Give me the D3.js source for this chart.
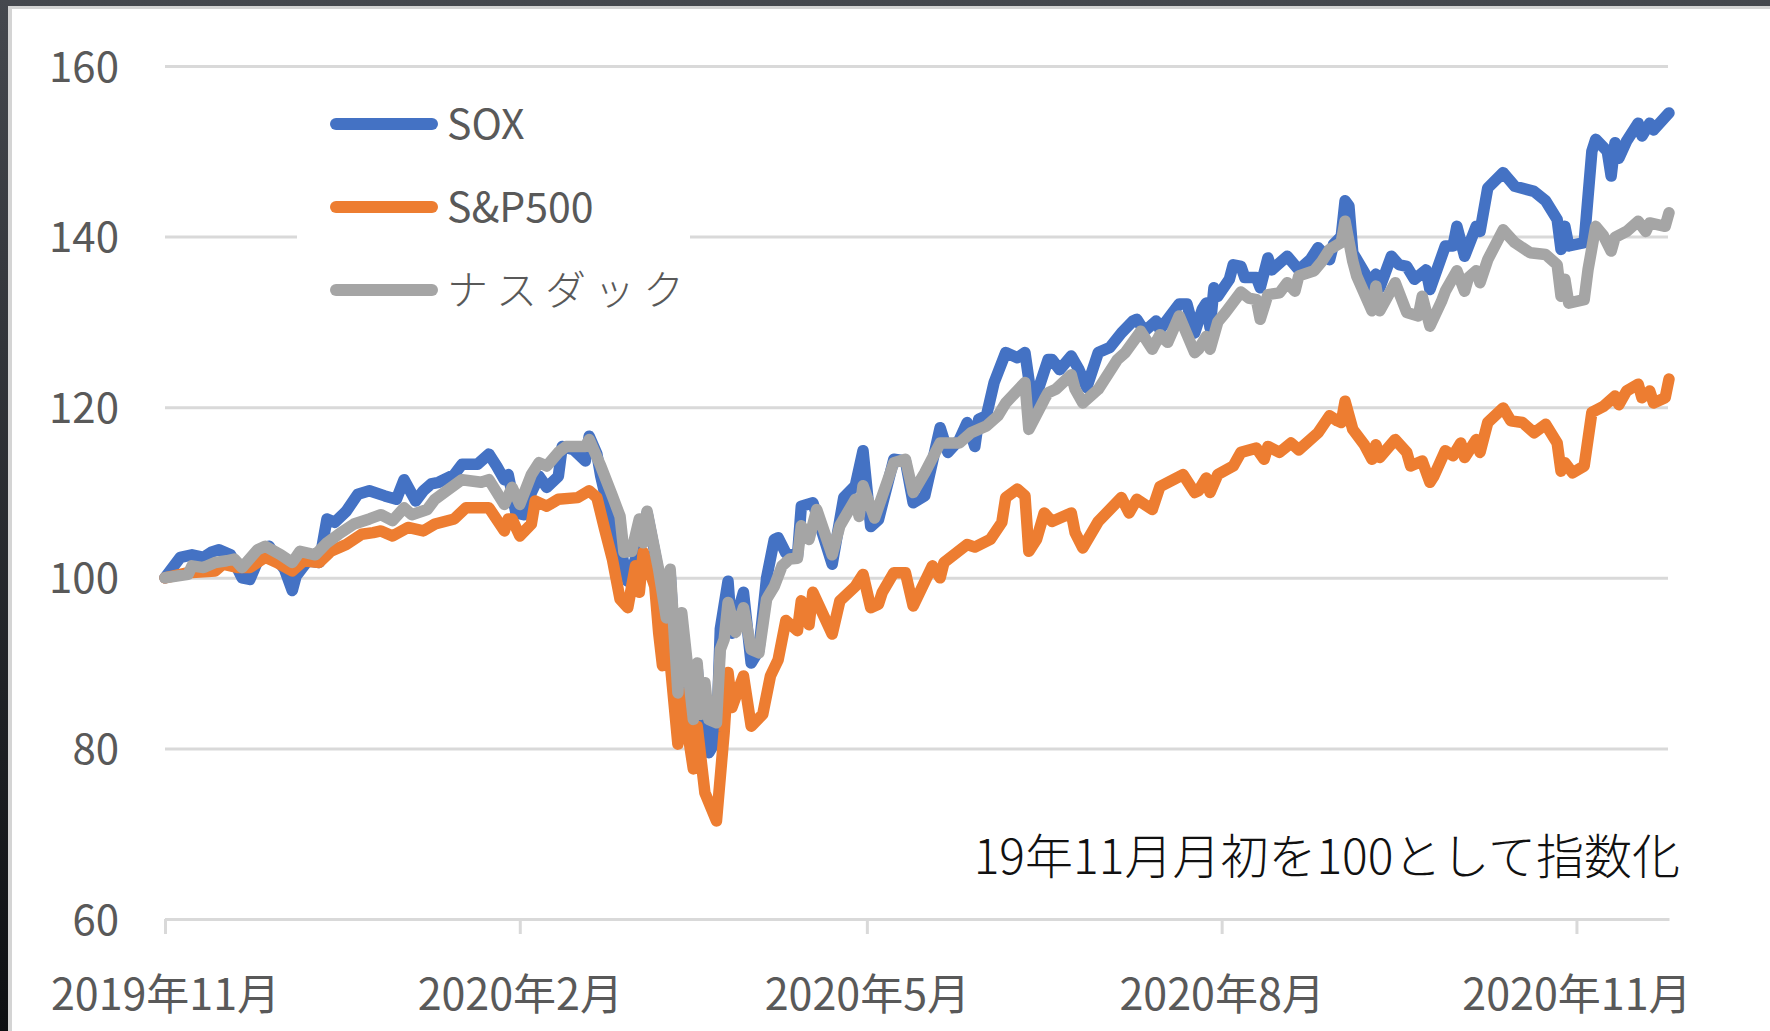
<!DOCTYPE html>
<html>
<head>
<meta charset="utf-8">
<script src="https://cdn.jsdelivr.net/npm/d3@7"></script>
<style>
  html, body { margin: 0; padding: 0; overflow: hidden; }
  body { width: 1770px; height: 1031px; background: linear-gradient(#45484e, #0d0f12); }
  svg { display: block; }
</style>
</head>
<body>
<div id="main"></div>
<script>
// series names / colours as in the Excel chart
const seriesNames = ['SOX', 'S&P500', 'ナスダック'];
const seriesColours = ['#4472C4', '#ED7D31', '#A5A5A5'];
const yTicks = [60, 80, 100, 120, 140, 160];
const xTicks = ['2019-11-01', '2020-02-01', '2020-05-01', '2020-08-01', '2020-11-01'];
const xStart = '2019-11-01';
const xEnd = '2020-11-25';
const noteText = '19年11月月初を100として指数化';

// values (index, 2019-11 start = 100)
const soxData = [
  ['2019-11-01',100],['2019-11-05',102.4],['2019-11-08',102.7],['2019-11-11',102.4],['2019-11-13',103],
  ['2019-11-15',103.3],['2019-11-18',102.7],['2019-11-21',100],['2019-11-23',99.8],['2019-11-26',103],
  ['2019-11-28',103.7],['2019-11-30',102.2],['2019-12-02',101],['2019-12-04',98.5],['2019-12-05',100.2],
  ['2019-12-08',102],['2019-12-11',101.8],['2019-12-13',106.9],['2019-12-15',106.5],['2019-12-18',107.8],
  ['2019-12-21',109.8],['2019-12-24',110.2],['2019-12-28',109.6],['2019-12-31',109.2],['2020-01-02',111.5],
  ['2020-01-05',109],['2020-01-07',110.2],['2020-01-09',111],['2020-01-11',111.2],['2020-01-15',112.1],
  ['2020-01-17',113.3],['2020-01-21',113.3],['2020-01-24',114.5],['2020-01-26',113.1],['2020-01-28',111.5],
  ['2020-01-29',112.1],['2020-01-31',107.6],['2020-02-02',107.4],['2020-02-04',110],['2020-02-06',111.9],
  ['2020-02-08',110.6],['2020-02-11',111.9],['2020-02-12',115.4],['2020-02-15',115],['2020-02-18',113.7],
  ['2020-02-19',116.6],['2020-02-21',114.5],['2020-02-22',111.9],['2020-02-24',108],['2020-02-27',103.7],
  ['2020-02-29',99.6],['2020-03-03',103.5],['2020-03-05',107.6],['2020-03-07',103],['2020-03-08',100.5],
  ['2020-03-10',94.5],['2020-03-11',100.5],['2020-03-13',85.5],['2020-03-14',95],['2020-03-17',82.5],
  ['2020-03-18',89.5],['2020-03-19',83.5],['2020-03-20',86.5],['2020-03-21',79.5],['2020-03-23',81],
  ['2020-03-24',94],['2020-03-26',99.6],['2020-03-27',93.5],['2020-03-30',98.3],['2020-04-01',90],
  ['2020-04-03',91.5],['2020-04-05',100],['2020-04-07',104.5],['2020-04-08',104.7],['2020-04-10',102.9],
  ['2020-04-13',102.5],['2020-04-14',108.4],['2020-04-17',108.8],['2020-04-22',101.6],['2020-04-25',109.4],
  ['2020-04-28',110.8],['2020-04-30',114.9],['2020-05-02',106],['2020-05-04',106.8],['2020-05-08',113.9],
  ['2020-05-11',113.7],['2020-05-13',108.8],['2020-05-16',109.6],['2020-05-20',117.6],['2020-05-22',114.7],
  ['2020-05-25',116.2],['2020-05-27',118.2],['2020-05-29',115.4],['2020-05-30',118.6],['2020-06-01',119],
  ['2020-06-03',122.9],['2020-06-06',126.4],['2020-06-09',125.8],['2020-06-11',126.4],['2020-06-13',120.1],
  ['2020-06-17',125.6],['2020-06-18',125.6],['2020-06-20',124.4],['2020-06-23',126],['2020-06-25',124.4],
  ['2020-06-27',122.3],['2020-06-30',126.4],['2020-07-03',127],['2020-07-06',128.7],['2020-07-09',130.1],
  ['2020-07-10',130.3],['2020-07-12',128.9],['2020-07-15',130.1],['2020-07-16',129.1],['2020-07-21',132.1],
  ['2020-07-23',132.1],['2020-07-25',128.7],['2020-07-27',131.5],['2020-07-28',132.2],['2020-07-29',129.3],
  ['2020-07-30',134],['2020-07-31',133],['2020-08-03',135],['2020-08-04',136.7],['2020-08-06',136.5],
  ['2020-08-07',135.2],['2020-08-10',135.2],['2020-08-11',134],['2020-08-13',137.5],['2020-08-14',136.1],
  ['2020-08-18',137.7],['2020-08-21',136.1],['2020-08-24',137.3],['2020-08-26',138.7],['2020-08-29',137.3],
  ['2020-08-30',139.1],['2020-09-01',140],['2020-09-02',144.2],['2020-09-03',143.6],['2020-09-04',138.1],
  ['2020-09-07',135.8],['2020-09-09',134.2],['2020-09-10',135.6],['2020-09-11',134],['2020-09-14',137.7],
  ['2020-09-16',136.7],['2020-09-18',136.5],['2020-09-20',135],['2020-09-23',136.1],['2020-09-24',133.8],
  ['2020-09-28',138.9],['2020-09-30',138.9],['2020-10-01',141.2],['2020-10-03',137.7],['2020-10-06',141.2],
  ['2020-10-07',140.6],['2020-10-09',145.7],['2020-10-13',147.5],['2020-10-16',145.9],['2020-10-21',145.3],
  ['2020-10-24',144.2],['2020-10-27',142],['2020-10-28',138.5],['2020-10-29',141.2],['2020-10-30',138.9],
  ['2020-11-03',139.3],['2020-11-05',150],['2020-11-06',151.4],['2020-11-09',150],['2020-11-10',147.1],
  ['2020-11-11',151],['2020-11-12',149.2],['2020-11-14',151.2],['2020-11-17',153.3],['2020-11-18',151.8],
  ['2020-11-20',153.3],['2020-11-21',152.5],['2020-11-25',154.5]
];

const spData = [
  ['2019-11-01',100],['2019-11-07',100.6],['2019-11-14',100.8],['2019-11-16',101.6],['2019-11-20',101.2],
  ['2019-11-23',101.2],['2019-11-27',102.4],['2019-11-30',101.8],['2019-12-04',100.8],['2019-12-07',102],
  ['2019-12-11',101.8],['2019-12-14',103.1],['2019-12-18',103.9],['2019-12-22',105.1],['2019-12-25',105.3],
  ['2019-12-27',105.5],['2019-12-30',104.9],['2020-01-03',105.9],['2020-01-07',105.5],['2020-01-10',106.3],
  ['2020-01-15',106.9],['2020-01-18',108.2],['2020-01-24',108.2],['2020-01-28',105.5],['2020-01-29',106.9],
  ['2020-01-30',106.9],['2020-02-01',104.9],['2020-02-04',106.3],['2020-02-05',109],['2020-02-08',108.4],
  ['2020-02-11',109.2],['2020-02-16',109.4],['2020-02-19',110.2],['2020-02-21',109.4],['2020-02-23',105.7],
  ['2020-02-25',102.2],['2020-02-27',97.5],['2020-02-29',96.5],['2020-03-02',101.4],['2020-03-03',98.3],
  ['2020-03-04',103],['2020-03-07',99],['2020-03-08',93.6],['2020-03-09',89.7],['2020-03-10',94.9],
  ['2020-03-13',80.5],['2020-03-14',86.5],['2020-03-17',77.6],['2020-03-18',82.6],['2020-03-20',74.8],
  ['2020-03-23',71.5],['2020-03-25',81.9],['2020-03-26',88.9],['2020-03-27',84.8],['2020-03-30',88.5],
  ['2020-04-01',82.6],['2020-04-04',84],['2020-04-06',88.5],['2020-04-08',90.4],['2020-04-10',95],
  ['2020-04-13',93.8],['2020-04-14',97.3],['2020-04-16',94.5],['2020-04-17',98.3],['2020-04-22',93.4],
  ['2020-04-24',97.3],['2020-04-28',99],['2020-04-30',100.4],['2020-05-02',96.5],['2020-05-04',96.9],
  ['2020-05-05',98.3],['2020-05-08',100.6],['2020-05-11',100.6],['2020-05-13',96.7],['2020-05-18',101.4],
  ['2020-05-20',100],['2020-05-21',101.8],['2020-05-27',103.9],['2020-05-29',103.6],['2020-06-02',104.5],
  ['2020-06-05',106.5],['2020-06-06',109.4],['2020-06-09',110.4],['2020-06-11',109.6],['2020-06-12',103.1],
  ['2020-06-14',104.5],['2020-06-16',107.6],['2020-06-18',106.6],['2020-06-23',107.6],['2020-06-24',105.3],
  ['2020-06-26',103.5],['2020-06-30',106.6],['2020-07-06',109.4],['2020-07-08',107.6],['2020-07-10',109.2],
  ['2020-07-14',108],['2020-07-16',110.7],['2020-07-22',112.1],['2020-07-25',110],['2020-07-26',110.2],
  ['2020-07-28',111.7],['2020-07-29',110],['2020-07-31',112.1],['2020-08-04',113.1],['2020-08-06',114.7],
  ['2020-08-10',115.2],['2020-08-12',113.9],['2020-08-13',115.4],['2020-08-16',114.7],['2020-08-19',115.8],
  ['2020-08-21',115],['2020-08-26',117],['2020-08-29',119],['2020-08-31',118.4],['2020-09-01',118.2],
  ['2020-09-02',120.7],['2020-09-04',117.4],['2020-09-07',115.6],['2020-09-09',113.9],['2020-09-10',115.6],
  ['2020-09-11',114.1],['2020-09-15',116.2],['2020-09-18',114.7],['2020-09-19',113.1],['2020-09-22',113.7],
  ['2020-09-24',111.2],['2020-09-25',111.9],['2020-09-28',114.9],['2020-09-30',114.3],['2020-10-02',115.8],
  ['2020-10-03',114.1],['2020-10-06',116.2],['2020-10-07',114.7],['2020-10-09',118.2],['2020-10-13',119.9],
  ['2020-10-15',118.4],['2020-10-18',118.2],['2020-10-21',117],['2020-10-24',118],['2020-10-27',115.8],
  ['2020-10-28',112.5],['2020-10-29',113.5],['2020-10-31',112.3],['2020-11-03',113.1],['2020-11-05',119.4],
  ['2020-11-08',120.1],['2020-11-11',121.3],['2020-11-12',120.3],['2020-11-14',121.9],['2020-11-17',122.7],
  ['2020-11-18',121.1],['2020-11-20',121.9],['2020-11-21',120.5],['2020-11-24',121.1],['2020-11-25',123.3]
];

const nasdaqData = [
  ['2019-11-01',100],['2019-11-07',100.4],['2019-11-08',101.4],['2019-11-11',101.2],['2019-11-14',101.8],
  ['2019-11-17',102],['2019-11-19',102.2],['2019-11-21',101.2],['2019-11-25',103.3],['2019-11-27',103.7],
  ['2019-12-01',102.7],['2019-12-04',101.8],['2019-12-06',103.1],['2019-12-10',102.7],['2019-12-13',104.1],
  ['2019-12-16',105.1],['2019-12-20',106.3],['2019-12-24',106.9],['2019-12-27',107.4],['2019-12-30',106.7],
  ['2020-01-02',108.2],['2020-01-04',107.4],['2020-01-08',108],['2020-01-10',109.2],['2020-01-13',110.2],
  ['2020-01-17',111.5],['2020-01-22',111.2],['2020-01-24',111.5],['2020-01-28',108.6],['2020-01-30',110.6],
  ['2020-02-01',108.6],['2020-02-04',112.1],['2020-02-06',113.5],['2020-02-08',113.1],['2020-02-11',114.7],
  ['2020-02-13',115.4],['2020-02-18',115.4],['2020-02-19',116.2],['2020-02-22',113.1],['2020-02-25',109.6],
  ['2020-02-27',107.2],['2020-02-28',103],['2020-03-01',103.1],['2020-03-03',106.9],['2020-03-04',104.1],
  ['2020-03-05',107.8],['2020-03-08',101],['2020-03-10',95.3],['2020-03-11',101],['2020-03-13',86.5],
  ['2020-03-14',95.9],['2020-03-17',83.4],['2020-03-18',90],['2020-03-19',84],['2020-03-20',87.7],
  ['2020-03-21',83.4],['2020-03-23',83],['2020-03-24',91.6],['2020-03-25',92.8],['2020-03-26',97.1],
  ['2020-03-28',93.6],['2020-03-30',96.5],['2020-04-01',91.6],['2020-04-03',91.2],['2020-04-05',97.5],
  ['2020-04-07',99],['2020-04-09',101.4],['2020-04-11',102.2],['2020-04-13',102.3],['2020-04-14',106.1],
  ['2020-04-16',104.5],['2020-04-18',108],['2020-04-22',102.7],['2020-04-24',106.1],['2020-04-28',109.2],
  ['2020-04-29',107.2],['2020-04-30',110.8],['2020-05-03',107],['2020-05-05',109.6],['2020-05-08',113.5],
  ['2020-05-11',113.9],['2020-05-13',110],['2020-05-16',112.3],['2020-05-20',115.8],['2020-05-23',115.8],
  ['2020-05-25',115.8],['2020-05-28',117],['2020-06-01',117.8],['2020-06-04',119],['2020-06-06',120.5],
  ['2020-06-11',122.9],['2020-06-12',117.4],['2020-06-16',120.9],['2020-06-17',121.7],['2020-06-19',122.1],
  ['2020-06-23',123.8],['2020-06-24',122.1],['2020-06-26',120.5],['2020-06-30',122.1],['2020-07-05',125.6],
  ['2020-07-07',126.4],['2020-07-11',128.9],['2020-07-14',126.8],['2020-07-16',128.5],['2020-07-18',127.6],
  ['2020-07-21',130.7],['2020-07-25',126.4],['2020-07-26',126.8],['2020-07-28',128.3],['2020-07-29',126.8],
  ['2020-07-31',130],['2020-08-02',131.1],['2020-08-06',133.5],['2020-08-08',132.8],['2020-08-10',132.6],
  ['2020-08-11',130.3],['2020-08-13',133.2],['2020-08-16',133.4],['2020-08-18',134.6],['2020-08-20',133.6],
  ['2020-08-21',135.4],['2020-08-25',136],['2020-08-27',137.1],['2020-08-29',138.5],['2020-09-01',139.3],
  ['2020-09-02',141.8],['2020-09-04',137.1],['2020-09-05',135.4],['2020-09-09',131.3],['2020-09-10',134.2],
  ['2020-09-11',131.3],['2020-09-15',134.6],['2020-09-18',131.1],['2020-09-21',130.7],['2020-09-22',133],
  ['2020-09-24',129.5],['2020-09-27',132.4],['2020-09-28',133.6],['2020-10-01',136],['2020-10-03',133.6],
  ['2020-10-04',135.2],['2020-10-06',136],['2020-10-07',134.6],['2020-10-09',137.3],['2020-10-13',140.8],
  ['2020-10-16',139.3],['2020-10-20',138.1],['2020-10-24',137.9],['2020-10-27',136.7],['2020-10-28',133],
  ['2020-10-29',135],['2020-10-30',132.2],['2020-11-03',132.6],['2020-11-04',136.1],['2020-11-06',141.2],
  ['2020-11-08',140.1],['2020-11-10',138.3],['2020-11-11',139.9],['2020-11-14',140.6],['2020-11-17',141.8],
  ['2020-11-19',140.6],['2020-11-20',141.6],['2020-11-24',141.2],['2020-11-25',142.8]
];

const WIDTH = 1770;
const HEIGHT = 1031;
const PLOT = {left: 165, right: 1669, top: 66, bottom: 919};
const FONT = "'Noto Sans CJK JP', 'Noto Sans', sans-serif";
const GRIDCOLOUR = '#D9D9D9';
const TEXTCOLOUR = '#595959';

const parseDate = d3.timeParse('%Y-%m-%d');

const svg = d3.select('#main').append('svg').attr('width', WIDTH).attr('height', HEIGHT);

// window frame: light border then white chart area
svg.append('rect').attr('x', 8).attr('y', 6).attr('width', WIDTH - 8).attr('height', HEIGHT - 6).attr('fill', '#D4D4D4');
svg.append('rect').attr('x', 12).attr('y', 9).attr('width', WIDTH - 12).attr('height', HEIGHT - 9).attr('fill', '#FFFFFF');

const scaleX = d3.scaleTime().domain([parseDate(xStart), parseDate(xEnd)]).range([PLOT.left, PLOT.right]);
const scaleY = d3.scaleLinear().domain([60, 160]).range([PLOT.bottom, PLOT.top]);

// y axis with gridlines
const axisY = d3.axisLeft(scaleY)
  .tickValues(yTicks)
  .tickSizeInner(-(PLOT.right - PLOT.left - 1))
  .tickSizeOuter(0)
  .tickPadding(46);
const gY = svg.append('g').attr('transform', `translate(${PLOT.left}, 0)`).call(axisY);
gY.select('.domain').remove();
gY.selectAll('.tick line').attr('stroke', GRIDCOLOUR).attr('stroke-width', 3);
gY.selectAll('.tick text')
  .attr('fill', TEXTCOLOUR)
  .attr('font-family', FONT)
  .attr('font-size', 42)
  .attr('dy', '0.36em');

// legend background hides part of the 140 gridline
svg.append('rect').attr('x', 297).attr('y', 84).attr('width', 393).attr('height', 246).attr('fill', '#FFFFFF');

const line = d3.line()
  .x((d) => scaleX(parseDate(d[0])))
  .y((d) => scaleY(d[1]));

const allSeries = [soxData, spData, nasdaqData];
svg.append('g').selectAll('path').data(allSeries).enter().append('path')
  .attr('d', line)
  .attr('fill', 'none')
  .attr('stroke', (d, i) => seriesColours[i])
  .attr('stroke-width', 11.5)
  .attr('stroke-linejoin', 'round')
  .attr('stroke-linecap', 'round');

// x axis
const axisX = d3.axisBottom(scaleX)
  .tickValues(xTicks.map(parseDate))
  .tickFormat((d) => `${d.getFullYear()}年${d.getMonth() + 1}月`)
  .tickSizeInner(15)
  .tickSizeOuter(0);
const gX = svg.append('g').attr('transform', `translate(0, ${PLOT.bottom})`).call(axisX);
gX.select('.domain').attr('stroke', GRIDCOLOUR).attr('stroke-width', 3);
gX.selectAll('.tick line').attr('stroke', GRIDCOLOUR).attr('stroke-width', 3);
gX.selectAll('.tick text')
  .attr('fill', TEXTCOLOUR)
  .attr('font-family', FONT)
  .attr('font-size', 43)
  .attr('y', 91)
  .attr('dy', 0);

// legend
const legend = svg.append('g').selectAll('g').data(seriesNames).enter().append('g')
  .attr('transform', (d, i) => `translate(0, ${124 + i * 83})`);
legend.append('line')
  .attr('x1', 336).attr('x2', 432).attr('y1', 0).attr('y2', 0)
  .attr('stroke', (d, i) => seriesColours[i])
  .attr('stroke-width', 12)
  .attr('stroke-linecap', 'round');
legend.append('text')
  .attr('x', 447)
  .attr('dy', '0.36em')
  .attr('fill', TEXTCOLOUR)
  .attr('font-family', FONT)
  .attr('font-size', 41)
  .attr('font-weight', (d, i) => (i === 2 ? 300 : 400))
  .attr('letter-spacing', (d, i) => (i === 2 ? 8 : 0))
  .text((d) => d);

// note
svg.append('text')
  .attr('x', 1680)
  .attr('y', 874)
  .attr('text-anchor', 'end')
  .attr('fill', '#111111')
  .attr('font-family', FONT)
  .attr('font-size', 48)
  .attr('font-weight', 300)
  .text(noteText);
</script>
</body>
</html>
